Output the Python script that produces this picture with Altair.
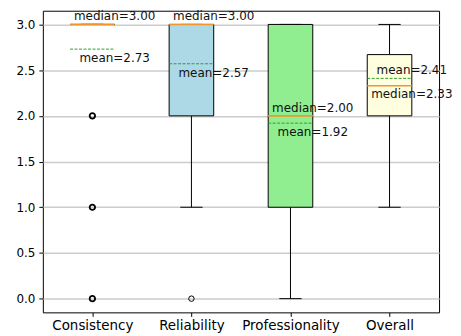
import altair as alt
import pandas as pd

categories = ["Consistency", "Reliability", "Professionality", "Overall"]
positions = [1, 2, 3, 4]
q1 = [3.0, 2.0, 1.0, 2.0]
q3 = [3.0, 3.0, 3.0, 2.67]
medians = [3.0, 3.0, 2.0, 2.33]
means = [2.73, 2.57, 1.92, 2.41]
whisker_low = [3.0, 1.0, 0.0, 1.0]
whisker_high = [3.0, 3.0, 3.0, 3.0]
box_colors = ["#ffb6c1", "#add8e6", "#90ee90", "#ffffe0"]

outlier_cats = ["Consistency", "Consistency", "Consistency", "Consistency", "Consistency", "Consistency", "Reliability"]
outlier_vals = [2.0, 2.0, 1.0, 1.0, 0.0, 0.0, 0.0]

y_ticks = [0.0, 0.5, 1.0, 1.5, 2.0, 2.5, 3.0]

FONT = "DejaVu Sans"
HALF_BOX = 0.225
HALF_CAP = 0.1125

df = pd.DataFrame({
    "cat": categories, "pos": positions, "q1": q1, "q3": q3,
    "median": medians, "mean": means, "wlo": whisker_low, "whi": whisker_high,
    "fill": box_colors,
})
pos_map = dict(zip(categories, positions))
odf = pd.DataFrame({"pos": [pos_map[c] for c in outlier_cats], "val": outlier_vals})

label_list = "[''," + ",".join("'" + c + "'" for c in categories) + "]"

xscale = alt.Scale(domain=[0.5, 4.5], nice=False, zero=False)
yscale = alt.Scale(domain=[-0.15, 3.15], nice=False, zero=False)
xaxis = alt.Axis(values=positions, labelExpr=label_list + "[datum.value]", title=None,
                 grid=False, domain=False, ticks=True, tickSize=4, tickColor="black",
                 labelFontSize=13.5, labelColor="black", labelFont=FONT, labelPadding=2,
                 labelAngle=0)
yaxis = alt.Axis(values=y_ticks, format=".1f", title=None, grid=True, gridColor="#cccccc",
                 gridWidth=1.5, domain=False, ticks=True, tickSize=4, tickColor="black",
                 labelFontSize=12, labelColor="black", labelFont=FONT, labelPadding=4)

base = alt.Chart(df).transform_calculate(
    lo=f"datum.pos - {HALF_BOX}", hi=f"datum.pos + {HALF_BOX}",
    clo=f"datum.pos - {HALF_CAP}", chi=f"datum.pos + {HALF_CAP}",
    tx=f"datum.pos + {HALF_BOX}",
    mtext="'median=' + format(datum.median, '.2f')",
    atext="'mean=' + format(datum.mean, '.2f')",
    med_above="datum.median >= datum.mean ? 1 : 0",
)

X = lambda f: alt.X(f, scale=xscale, axis=xaxis)
Y = lambda f: alt.Y(f, scale=yscale, axis=yaxis)

whisk_lo = base.mark_rule(color="black", strokeWidth=1).encode(x=X("pos:Q"), y=Y("q1:Q"), y2="wlo:Q")
whisk_hi = base.mark_rule(color="black", strokeWidth=1).encode(x=X("pos:Q"), y=Y("q3:Q"), y2="whi:Q")
cap_lo = base.mark_rule(color="black", strokeWidth=1).encode(x=X("clo:Q"), x2="chi:Q", y=Y("wlo:Q"))
cap_hi = base.mark_rule(color="black", strokeWidth=1).encode(x=X("clo:Q"), x2="chi:Q", y=Y("whi:Q"))
boxes = base.mark_bar(stroke="black", strokeWidth=1, opacity=1).encode(
    x=X("lo:Q"), x2="hi:Q", y=Y("q1:Q"), y2="q3:Q", color=alt.Color("fill:N", scale=None))
med_line = base.mark_rule(color="#f0962e", strokeWidth=1.6).encode(x=X("lo:Q"), x2="hi:Q", y=Y("median:Q"))
mean_line = base.mark_rule(color="#2ca02c", strokeWidth=1, strokeDash=[3, 1.5]).encode(
    x=X("lo:Q"), x2="hi:Q", y=Y("mean:Q"))

txt_kw = dict(font=FONT, fontSize=12, color="#111111", align="center", baseline="alphabetic")
med_above = base.transform_filter("datum.med_above == 1").mark_text(dy=-4, **txt_kw).encode(
    x=X("tx:Q"), y=Y("median:Q"), text="mtext:N")
mean_below = base.transform_filter("datum.med_above == 1").mark_text(dy=13, **txt_kw).encode(
    x=X("tx:Q"), y=Y("mean:Q"), text="atext:N")
mean_above = base.transform_filter("datum.med_above == 0").mark_text(dy=-4, **txt_kw).encode(
    x=X("tx:Q"), y=Y("mean:Q"), text="atext:N")
med_below = base.transform_filter("datum.med_above == 0").mark_text(dy=12, **txt_kw).encode(
    x=X("tx:Q"), y=Y("median:Q"), text="mtext:N")

outliers = alt.Chart(odf).transform_aggregate(
    n="count()", groupby=["pos", "val"]
).mark_point(shape="circle", filled=False, size=30, stroke="black", opacity=1).encode(
    x=X("pos:Q"), y=Y("val:Q"),
    strokeWidth=alt.condition("datum.n > 1", alt.value(1.8), alt.value(1.0)),
)

chart = alt.layer(
    whisk_lo, whisk_hi, cap_lo, cap_hi, boxes, med_line, mean_line, outliers,
    med_above, mean_below, mean_above, med_below,
).properties(
    width=398, height=303,
    autosize=alt.AutoSizeParams(type="none"),
    padding={"left": 35, "top": 2, "right": 14, "bottom": 22},
).configure_view(stroke="black", strokeWidth=1)

chart.save("out.html", embed_options={"renderer": "svg", "actions": False})
